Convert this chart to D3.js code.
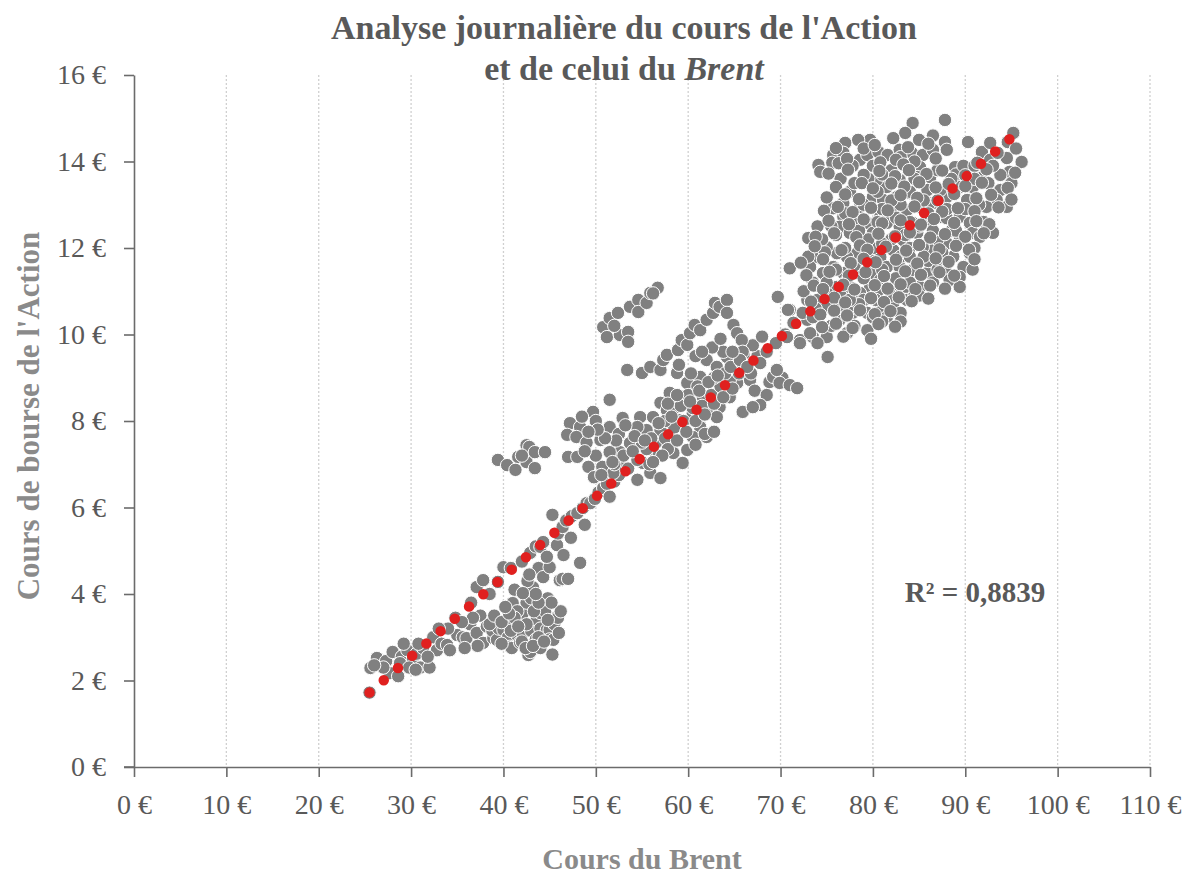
<!DOCTYPE html>
<html>
<head>
<meta charset="utf-8">
<script src="https://cdn.jsdelivr.net/npm/d3@7"></script>
<style>
  body { margin: 0; background: #fff; }
  text { font-family: "Liberation Serif", "DejaVu Serif", serif; }
</style>
</head>
<body>
<svg id="chart" width="1188" height="875"></svg>
<script>
// tick values (in €)
const xTicks = [0, 10, 20, 30, 40, 50, 60, 70, 80, 90, 100, 110];
const yTicks = [0, 2, 4, 6, 8, 10, 12, 14, 16];

// daily points [Brent, Action], grouped by area of the cloud
const tailPoints = [
  [25.5, 1.72], [25.6, 2.29], [26.6, 2.47], [26.3, 2.52], [27.7, 2.17], [27.3, 2.45], [28.0, 2.66],
  [28.6, 2.1], [29.0, 2.55], [29.6, 2.7], [30.2, 2.5], [30.6, 2.62], [31.0, 2.3], [31.3, 2.75],
  [32.0, 2.3], [32.4, 3.0], [32.8, 2.7], [33.3, 2.85], [33.9, 2.82], [34.2, 2.7], [34.8, 3.45],
  [35.0, 3.05], [35.6, 3.0], [36.0, 2.98], [36.4, 3.3], [37.1, 3.1], [37.8, 2.87], [37.5, 3.5],
  [38.2, 3.25], [38.9, 2.98], [28.8, 2.4], [30.8, 2.85], [29.8, 2.3], [38.8, 3.15], [37.2, 2.8],
  [36.7, 3.45], [35.5, 3.35], [34.0, 3.2], [33.0, 3.2], [31.8, 2.55], [30.5, 2.25], [29.2, 2.85],
  [27.0, 2.3], [26.0, 2.35], [35.8, 2.75]
];

const lowMassPoints = [
  [39.3, 2.94], [39.5, 3.2], [40.0, 3.17], [40.5, 3.0], [40.7, 2.78], [40.9, 2.75], [41.0, 3.3],
  [41.0, 3.79], [41.5, 3.05], [41.8, 2.88], [42.0, 3.4], [42.1, 3.1], [42.1, 3.56], [42.3, 4.0],
  [42.5, 3.8], [42.7, 2.59], [42.9, 2.66], [43.0, 3.9], [43.0, 3.15], [43.2, 4.15], [43.5, 2.95],
  [43.6, 3.4], [44.0, 2.75], [44.0, 3.2], [44.0, 3.56], [44.2, 3.75], [44.7, 3.17], [44.5, 3.6],
  [45.0, 3.17], [45.0, 2.95], [45.4, 2.94], [45.3, 2.6], [45.5, 3.3], [45.8, 3.47], [45.9, 3.45],
  [46.2, 3.6], [42.6, 4.3], [41.5, 3.6], [40.3, 3.4], [38.5, 3.3], [39.0, 3.5], [43.8, 4.6],
  [44.3, 4.39], [45.0, 4.62], [46.1, 4.32], [46.4, 4.35], [47.0, 4.35], [48.3, 4.72], [42.0, 2.9],
  [43.3, 3.6], [44.8, 3.9], [41.2, 3.45], [40.8, 3.15], [39.8, 2.85], [46.0, 3.1], [45.2, 3.8],
  [43.8, 3.0], [42.5, 3.3], [39.8, 3.35], [40.6, 3.55], [41.6, 3.25], [42.4, 2.75], [43.2, 2.8],
  [44.4, 2.9], [44.8, 3.4], [43.8, 3.8], [42.8, 4.45], [43.5, 4.0], [41.2, 4.1], [40.2, 3.7]
];

const lowArmPoints = [
  [36.5, 3.8], [37.1, 4.16], [37.8, 4.32], [38.5, 4.0], [39.4, 4.28], [40.0, 4.62], [40.8, 4.6],
  [42.1, 4.02], [42.0, 4.75], [42.9, 4.95], [43.5, 5.1], [44.0, 5.09], [44.3, 5.2], [44.7, 4.86],
  [45.3, 5.83], [45.8, 5.13], [45.9, 5.4], [46.4, 5.55], [46.8, 5.7], [47.4, 5.8], [48.0, 5.87],
  [48.6, 5.99], [49.0, 6.1], [49.4, 6.1], [49.9, 6.2], [50.3, 6.35], [50.8, 6.45], [51.5, 6.25],
  [51.2, 6.55], [52.0, 6.6], [52.5, 6.75], [53.0, 6.95], [46.5, 4.9], [47.3, 5.3], [48.8, 5.6]
];

const lowUpperPoints = [
  [39.4, 7.1], [40.4, 6.98], [41.3, 6.87], [41.6, 7.17], [42.5, 7.05], [42.5, 7.44], [42.8, 7.4],
  [43.4, 7.28], [43.4, 6.91], [44.5, 7.28], [42.0, 7.2]
];

const midPoints = [
  [47.2, 7.95], [48.3, 7.86], [46.9, 7.68], [47.9, 7.63], [47.0, 7.17], [48.0, 7.17], [49.2, 6.94],
  [49.7, 8.21], [51.5, 8.49], [50.5, 7.56], [51.5, 7.86], [52.9, 8.07], [54.8, 8.09], [53.7, 7.49],
  [52.6, 7.28], [51.5, 7.28], [50.7, 6.94], [51.9, 6.8], [54.5, 6.64], [55.9, 6.8], [57.0, 6.68],
  [55.1, 7.03], [56.2, 7.33], [57.0, 7.79], [57.0, 8.42], [58.0, 8.65], [59.9, 8.88], [58.8, 9.11],
  [61.3, 9.02], [62.0, 9.41], [63.1, 9.25], [64.2, 9.48], [62.4, 8.25], [63.4, 8.32], [61.3, 7.86],
  [60.5, 7.63], [59.9, 7.33], [58.4, 7.26], [58.0, 7.63], [59.4, 7.03], [62.0, 7.63], [63.1, 8.09],
  [64.5, 8.55], [65.3, 8.88], [66.7, 8.95], [64.5, 8.95], [56.2, 8.09], [55.5, 7.79], [54.5, 7.86],
  [57.7, 8.25], [59.1, 8.02], [60.5, 8.18], [59.9, 8.49], [61.6, 8.55], [53.5, 6.9], [54.5, 7.1],
  [55.5, 7.35], [56.5, 7.5], [57.5, 7.6], [58.5, 7.85], [59.5, 8.0], [60.5, 8.3], [61.5, 8.35],
  [62.5, 8.6], [63.5, 8.8], [65.5, 9.1], [66.5, 9.3], [67.5, 9.5], [68.5, 9.6], [69.5, 9.8],
  [70.5, 10.0], [56.0, 7.6], [57.5, 8.0], [58.5, 8.3], [60.0, 8.6], [61.0, 8.8], [62.8, 9.0],
  [64.0, 9.1], [66.0, 9.55], [67.0, 9.75], [68.0, 9.95], [55.0, 7.5], [53.0, 7.2], [52.0, 7.0],
  [50.0, 7.2], [49.0, 7.5], [48.5, 8.1], [50.0, 8.0], [52.5, 7.7], [55.8, 7.0], [56.8, 7.2],
  [57.8, 7.35], [58.8, 7.55], [59.8, 7.75], [60.8, 8.0], [61.8, 8.15], [62.8, 8.4], [63.8, 8.55],
  [64.8, 8.75], [58.2, 8.1], [59.2, 8.35], [60.2, 8.45], [61.2, 8.7], [62.2, 8.9], [63.2, 9.05],
  [64.6, 9.25], [65.8, 9.35], [57.2, 7.2], [56.2, 7.05], [60.8, 7.45], [61.8, 7.7], [62.8, 7.75],
  [53.2, 7.9], [52.2, 7.55], [51.0, 7.6], [50.2, 7.8], [49.2, 7.75], [48.8, 7.3], [49.8, 6.7],
  [50.6, 6.75], [51.8, 7.05], [54.0, 7.3], [54.2, 7.65], [55.3, 7.55], [56.8, 7.95], [57.8, 8.4],
  [58.8, 8.6], [59.0, 9.3], [60.3, 9.1], [63.8, 9.6], [62.6, 9.7], [60.8, 9.5], [66.8, 9.1],
  [67.2, 8.7], [68.8, 8.9], [70.2, 9.0]
];

const midArmPoints = [
  [50.8, 10.17], [51.2, 9.94], [51.5, 10.38], [52.4, 10.5], [52.6, 9.99], [53.5, 10.06], [53.5, 9.83],
  [53.7, 10.64], [54.6, 10.8], [54.6, 10.52], [55.5, 10.73], [55.9, 10.96], [56.7, 11.08], [56.2, 10.95],
  [52.0, 10.2], [53.4, 9.18], [55.0, 9.11], [55.9, 9.25], [57.0, 9.18], [57.3, 9.41], [57.7, 9.53],
  [58.9, 9.64], [59.3, 9.87], [59.9, 9.76], [60.2, 10.03], [60.7, 10.22], [61.3, 10.1], [62.0, 10.34],
  [62.7, 10.5], [62.9, 10.73], [63.4, 10.64], [64.2, 10.8], [64.2, 10.5], [64.9, 10.22], [65.3, 10.03],
  [65.8, 9.87], [65.9, 9.6], [65.6, 9.41], [66.4, 9.25], [67.8, 9.34], [69.2, 9.02], [69.9, 8.88],
  [71.0, 8.83], [71.8, 8.76], [68.5, 8.6], [67.8, 8.37], [65.9, 8.21], [67.0, 8.32], [69.6, 9.18],
  [69.7, 10.87], [71.0, 10.57], [71.4, 10.27], [72.9, 10.34], [73.5, 10.64], [72.1, 9.87], [73.5, 9.94],
  [70.7, 9.94], [70.8, 10.57], [71.0, 11.53], [73.0, 12.23], [75.1, 9.48], [61.5, 9.6], [63.5, 9.9],
  [64.8, 9.6]
];

const highPoints = [
  [84.3, 14.89], [87.8, 14.96], [83.5, 14.66], [82.2, 14.54], [79.7, 14.5], [78.4, 14.5], [77.0, 14.43],
  [75.7, 14.15], [74.1, 13.92], [74.3, 13.76], [75.6, 13.97], [76.8, 14.2], [78.6, 14.04], [79.4, 14.15],
  [80.6, 14.22], [81.6, 14.15], [82.9, 14.27], [84.2, 14.2], [85.4, 14.15], [86.5, 14.27], [87.8, 14.45],
  [88.0, 14.27], [88.9, 13.87], [90.3, 14.45], [91.8, 14.22], [92.7, 14.43], [95.2, 14.66], [94.6, 14.45],
  [94.5, 14.08], [96.1, 13.99], [94.8, 13.76], [93.8, 13.69], [92.7, 14.04], [91.9, 13.64], [90.8, 13.41],
  [93.8, 13.34], [93.4, 13.11], [94.5, 12.95], [92.3, 12.95], [90.2, 13.11], [89.4, 13.41], [88.0, 13.18],
  [87.3, 13.34], [86.2, 13.64], [85.1, 13.87], [83.7, 13.87], [84.8, 13.64], [82.9, 13.57], [81.5, 13.41],
  [80.4, 13.57], [77.5, 13.3], [76.8, 13.04], [75.7, 12.92], [78.6, 12.95], [80.0, 13.18], [81.1, 13.11],
  [82.6, 13.18], [84.0, 13.27], [85.9, 13.34], [86.5, 13.04], [85.1, 12.95], [83.7, 12.88], [82.2, 12.81],
  [80.8, 12.72], [79.4, 12.58], [77.8, 12.72], [76.8, 12.72], [76.4, 12.49], [77.5, 12.35], [78.9, 12.18],
  [80.0, 12.35], [81.5, 12.58], [82.9, 12.49], [84.3, 12.58], [85.9, 12.65], [87.3, 12.72], [88.0, 12.69],
  [89.4, 12.72], [90.5, 12.58], [90.8, 12.35], [91.6, 12.26], [93.0, 12.35], [90.5, 11.88], [89.4, 12.18],
  [89.8, 11.56], [89.4, 11.33], [88.0, 11.42], [88.3, 11.26], [86.9, 11.65], [86.5, 11.95], [88.0, 12.11],
  [85.4, 12.02], [84.8, 12.35], [83.3, 12.18], [82.2, 11.95], [80.8, 11.79], [79.7, 11.72], [78.3, 11.88],
  [77.2, 11.79], [76.1, 11.88], [75.0, 12.02], [74.0, 11.79], [73.2, 11.56], [74.6, 11.42], [75.7, 11.56],
  [76.8, 11.42], [78.3, 11.42], [80.0, 11.42], [81.5, 11.56], [82.9, 11.56], [84.3, 11.49], [85.9, 11.42],
  [85.1, 11.1], [83.7, 11.1], [82.2, 11.1], [80.8, 11.26], [79.7, 11.1], [78.6, 10.96], [77.5, 11.1],
  [76.1, 11.1], [75.0, 10.96], [74.0, 10.8], [72.9, 10.8], [72.4, 10.5], [73.5, 10.4], [75.0, 10.64],
  [76.4, 10.64], [77.8, 10.5], [79.4, 10.5], [80.8, 10.57], [82.2, 10.64], [83.7, 10.8], [81.5, 10.4],
  [79.4, 10.1], [76.4, 10.34], [77.2, 10.03], [75.0, 9.94], [73.2, 10.03], [74.0, 9.8], [72.1, 9.8],
  [89.4, 11.1], [77.0, 12.0], [78.0, 13.5], [79.0, 13.0], [80.0, 12.0], [81.0, 12.9], [82.0, 12.2],
  [83.0, 13.0], [84.0, 12.0], [85.0, 12.5], [86.0, 13.0], [87.0, 12.2], [88.0, 12.9], [89.0, 13.7],
  [81.0, 11.5], [83.0, 11.8], [79.0, 11.3], [77.0, 11.2], [76.0, 12.3], [78.0, 12.6], [80.0, 13.9],
  [82.0, 13.8], [84.0, 13.3], [86.0, 11.7], [87.0, 11.5], [84.0, 11.2], [82.0, 10.9], [79.0, 10.8],
  [81.0, 10.3], [83.0, 10.5], [78.0, 10.2], [76.0, 11.5], [75.0, 11.2], [74.0, 12.5], [73.0, 11.8],
  [77.8, 13.9], [79.0, 14.3], [81.0, 13.7], [83.0, 14.1], [85.0, 14.5], [86.5, 14.6], [84.5, 14.0],
  [87.0, 13.8], [88.5, 13.6], [89.8, 13.9], [91.0, 13.9], [92.5, 13.5], [91.5, 13.0], [92.0, 12.6],
  [91.0, 12.0], [90.8, 11.5], [88.7, 11.8], [87.5, 11.9], [85.5, 11.8], [84.0, 11.8], [82.5, 11.3],
  [80.5, 11.0], [78.0, 11.6], [79.5, 12.2], [81.0, 12.1], [82.5, 12.7], [84.0, 12.6], [85.5, 13.1],
  [87.0, 13.1], [88.5, 12.4], [86.5, 12.4], [83.5, 12.3], [80.5, 12.6], [78.5, 12.4], [77.0, 12.8],
  [75.5, 12.5], [74.5, 12.2], [76.5, 13.6], [79.5, 13.6], [80.5, 13.3], [82.0, 13.1], [84.5, 13.6],
  [86.0, 12.8], [89.0, 12.4], [90.0, 12.9], [91.0, 13.6], [93.0, 13.9], [95.0, 13.5], [95.5, 14.3],
  [93.5, 14.2], [73.5, 11.2], [74.8, 11.9], [72.5, 11.0], [76.5, 10.9], [78.5, 10.7], [80.3, 10.8],
  [83.0, 10.3], [84.5, 10.9], [86.5, 11.2], [85.0, 10.9], [80.0, 10.4], [77.5, 10.8], [75.5, 10.2],
  [73.8, 10.6], [76.8, 9.95], [79.8, 9.9]
];

// more days inside the dense upper cloud
const highCorePoints = [
  [76.0, 14.31], [80.2, 14.38], [83.8, 14.33], [86.0, 14.41],
  [76.3, 13.96], [77.2, 14.06], [80.8, 13.98], [82.5, 14.04], [83.3, 13.93], [86.8, 14.07], [91.3, 13.97],
  [75.2, 13.72], [77.3, 13.81], [79.0, 13.69], [80.7, 13.78], [82.4, 13.66], [83.9, 13.8],
  [85.8, 13.71], [87.5, 13.79], [90.0, 13.68], [92.3, 13.82], [95.4, 13.74],
  [76.0, 13.41], [78.8, 13.5], [80.0, 13.38], [82.0, 13.49], [83.4, 13.42], [85.0, 13.52],
  [86.8, 13.4], [88.2, 13.48], [90.0, 13.43], [91.8, 13.51], [94.6, 13.39],
  [75.0, 13.17], [77.0, 13.24], [78.5, 13.13], [83.0, 13.22], [84.8, 13.16], [88.8, 13.25], [91.2, 13.15],
  [92.8, 13.23], [95.0, 13.12],
  [74.7, 12.86], [76.2, 12.95], [77.8, 12.83], [79.8, 12.93], [81.6, 12.87], [84.5, 12.96], [87.5, 12.84],
  [89.2, 12.92], [91.0, 12.85], [93.6, 12.94],
  [75.2, 12.63], [77.4, 12.55], [79.0, 12.66], [81.0, 12.57], [83.0, 12.64], [85.2, 12.54], [86.6, 12.67],
  [88.8, 12.58], [91.2, 12.62], [92.6, 12.55],
  [73.8, 12.26], [75.8, 12.34], [78.2, 12.25], [80.6, 12.33], [82.4, 12.27], [84.0, 12.36], [86.2, 12.24],
  [87.8, 12.32], [90.0, 12.26], [92.0, 12.34],
  [73.7, 12.04], [76.6, 11.95], [78.6, 12.06], [79.4, 11.96], [81.4, 12.03], [83.6, 11.94], [85.0, 12.07],
  [87.2, 11.97], [89.0, 12.05], [90.4, 11.96],
  [72.2, 11.66], [74.6, 11.74], [77.6, 11.65], [79.0, 11.75], [80.3, 11.67], [82.5, 11.73], [84.8, 11.64],
  [86.8, 11.76], [88.2, 11.68], [91.0, 11.74],
  [72.8, 11.37], [75.3, 11.45], [77.4, 11.36], [79.2, 11.44], [81.2, 11.35], [83.5, 11.46], [85.2, 11.38],
  [87.2, 11.44], [88.8, 11.36],
  [73.6, 11.13], [74.6, 11.05], [76.8, 11.15], [78.0, 11.04], [80.2, 11.14], [81.6, 11.06], [83.0, 11.16],
  [84.6, 11.05], [86.2, 11.13], [87.8, 11.06],
  [73.3, 10.76], [75.8, 10.85], [77.0, 10.74], [79.8, 10.84], [81.2, 10.75], [82.8, 10.86], [84.2, 10.77],
  [86.0, 10.83],
  [74.3, 10.46], [75.8, 10.55], [77.2, 10.44], [78.6, 10.56], [80.2, 10.47], [81.9, 10.54],
  [74.5, 10.17], [76.0, 10.25], [77.8, 10.15], [80.6, 10.24], [82.4, 10.18]
];

// linear trend (Excel trendline) and its R²
const trendSlope = 0.1847;
const trendIntercept = -2.99;
const trendRange = [25.5, 95.3];
const rSquared = "0,8839";

const points = [].concat(tailPoints, lowMassPoints, lowArmPoints, lowUpperPoints,
  midPoints, midArmPoints, highPoints, highCorePoints);

const svg = d3.select("#chart");
const plotLeft = 134, plotRight = 1150, plotTop = 75, plotBottom = 767;

const x = d3.scaleLinear().domain([0, 110]).range([plotLeft, plotRight]);
const y = d3.scaleLinear().domain([0, 16]).range([plotBottom, plotTop]);

const euro = d => d + "\u00a0€";

// vertical dotted gridlines
svg.append("g")
  .selectAll("line")
  .data(xTicks.slice(1))
  .enter().append("line")
  .attr("x1", d => x(d)).attr("x2", d => x(d))
  .attr("y1", plotTop).attr("y2", plotBottom)
  .attr("stroke", "#d0d0d0")
  .attr("stroke-width", 1.3)
  .attr("stroke-dasharray", "2,2");

// axes
const xAxis = svg.append("g")
  .attr("transform", "translate(0," + plotBottom + ")")
  .call(d3.axisBottom(x).tickValues(xTicks).tickSize(10).tickSizeOuter(0).tickPadding(17).tickFormat(euro));

const yAxis = svg.append("g")
  .attr("transform", "translate(" + plotLeft + ",0)")
  .call(d3.axisLeft(y).tickValues(yTicks).tickSize(10).tickSizeOuter(0).tickPadding(18).tickFormat(euro));

[xAxis, yAxis].forEach(g => {
  g.select(".domain").attr("stroke", "#6b6b6b").attr("stroke-width", 1.6);
  g.selectAll(".tick line").attr("stroke", "#6b6b6b").attr("stroke-width", 1.6);
  g.selectAll(".tick text")
    .attr("fill", "#595959")
    .style("font-family", "'Liberation Serif', serif")
    .style("font-size", "28px");
});
// x-axis line reaches under the 0 € y tick
svg.append("line")
  .attr("x1", plotLeft - 10).attr("x2", plotLeft)
  .attr("y1", plotBottom).attr("y2", plotBottom)
  .attr("stroke", "#6b6b6b").attr("stroke-width", 1.6);

// scatter points
svg.append("g")
  .selectAll("circle")
  .data(points)
  .enter().append("circle")
  .attr("cx", d => x(d[0]))
  .attr("cy", d => y(d[1]))
  .attr("r", 6.7)
  .attr("fill", "#808080")
  .attr("stroke", "#ffffff")
  .attr("stroke-width", 1);

// dotted red trend line
svg.append("line")
  .attr("x1", x(trendRange[0])).attr("y1", y(trendSlope * trendRange[0] + trendIntercept))
  .attr("x2", x(trendRange[1])).attr("y2", y(trendSlope * trendRange[1] + trendIntercept))
  .attr("stroke", "#e0201f")
  .attr("stroke-width", 10.5)
  .attr("stroke-linecap", "round")
  .attr("stroke-dasharray", "0,18.8");

// R² label
svg.append("text")
  .attr("x", 975).attr("y", 602)
  .attr("text-anchor", "middle")
  .attr("fill", "#595959")
  .style("font-weight", "bold")
  .style("font-size", "29px")
  .text("R² = " + rSquared);

// title
const title = svg.append("text")
  .attr("text-anchor", "middle")
  .attr("fill", "#595959")
  .style("font-weight", "bold")
  .style("font-size", "34px");
title.append("tspan").attr("x", 624).attr("y", 39).text("Analyse journalière du cours de l'Action");
const t2 = title.append("tspan").attr("x", 624).attr("y", 80);
t2.append("tspan").text("et de celui du ");
t2.append("tspan").style("font-style", "italic").text("Brent");

// axis titles
svg.append("text")
  .attr("x", 642).attr("y", 869)
  .attr("text-anchor", "middle")
  .attr("fill", "#8a8a8a")
  .style("font-weight", "bold")
  .style("font-size", "30px")
  .text("Cours du Brent");

svg.append("text")
  .attr("transform", "translate(39,416) rotate(-90)")
  .attr("text-anchor", "middle")
  .attr("fill", "#8a8a8a")
  .style("font-weight", "bold")
  .style("font-size", "31px")
  .text("Cours de bourse de l'Action");
</script>
</body>
</html>
